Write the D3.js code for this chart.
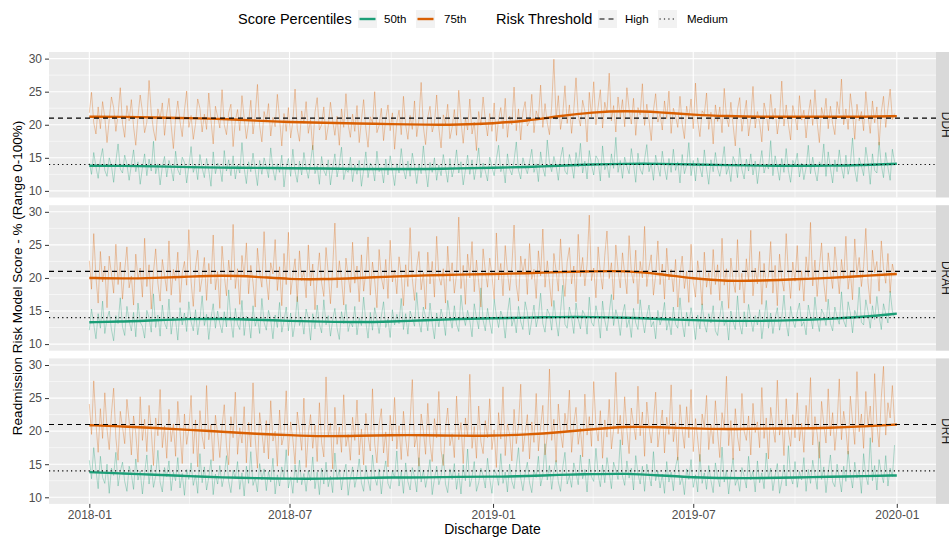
<!DOCTYPE html>
<html>
<head>
<meta charset="utf-8">
<script src="https://cdnjs.cloudflare.com/ajax/libs/d3/7.8.5/d3.min.js"></script>
<style>
body { margin: 0; background: #fff; }
svg { display: block; font-family: "Liberation Sans", Arial, sans-serif; }
</style>
</head>
<body>
<div class="container"></div>
<script>
// one score every 2 days, starting 2018-01-01
var ddh75 = [21.8,24.9,20.3,18.6,22.7,19.4,23.5,21.1,17.3,20.8,24.2,22.6,19.0,21.5,25.6,20.2,18.1,22.9,20.6,23.8,
	19.7,16.9,21.3,24.5,22.0,18.8,20.4,26.7,21.9,19.2,17.6,22.4,20.9,23.3,18.4,21.7,24.0,19.9,16.4,21.0,
	23.6,20.5,18.2,22.2,25.1,19.6,21.4,17.8,20.1,23.9,22.5,18.9,21.6,19.3,24.8,20.7,17.1,22.8,21.2,19.5,
	25.3,20.0,18.5,21.8,23.1,16.7,20.6,22.3,19.1,24.4,21.0,17.9,20.3,23.7,18.6,21.5,26.1,19.8,17.4,22.0,
	20.4,23.2,18.3,21.1,19.7,24.6,20.9,16.8,21.7,19.0,22.6,18.0,20.5,25.4,19.4,17.5,22.1,20.2,23.5,18.7,
	20.8,16.2,21.9,24.1,19.2,20.0,22.7,17.7,19.8,23.4,20.6,18.4,21.3,16.9,22.4,19.6,24.7,20.1,18.1,21.6,
	19.0,22.9,17.3,20.7,23.8,19.4,16.6,21.2,20.3,25.0,18.8,19.9,22.5,17.6,20.9,23.0,19.1,21.8,16.3,20.4,
	22.2,18.5,24.3,20.0,17.8,21.4,19.3,23.6,18.2,20.8,26.4,19.7,17.0,21.1,22.8,18.9,20.2,24.5,19.5,16.5,
	21.5,20.1,23.1,17.9,19.6,22.3,18.4,25.2,20.6,17.2,21.0,19.2,23.9,18.6,20.4,16.1,22.0,19.9,24.2,20.7,
	18.3,21.7,19.0,23.3,17.5,20.9,22.6,19.4,24.0,18.1,21.3,20.0,25.7,19.1,22.4,17.7,21.9,23.5,19.8,20.5,
	24.6,18.8,22.1,21.0,26.0,19.6,23.2,20.3,18.5,22.8,29.9,20.8,24.4,19.3,21.6,25.9,20.2,23.0,18.7,22.3,
	27.1,21.4,19.8,23.7,22.0,17.4,24.9,21.2,26.5,20.0,22.7,25.3,19.5,23.4,21.8,27.8,20.6,22.9,18.9,24.2,
	21.1,23.8,19.7,25.6,22.4,20.1,24.0,18.4,22.6,21.5,26.2,19.9,23.1,20.7,17.6,22.2,24.7,20.4,21.7,19.2,
	23.6,20.9,25.1,18.7,22.5,21.3,19.6,24.3,20.2,17.9,22.8,21.0,23.9,19.4,26.3,20.6,18.2,22.1,21.6,24.8,
	19.3,21.9,17.1,23.0,20.5,22.7,18.8,25.5,21.2,19.7,23.4,20.0,16.8,22.3,24.1,19.0,21.4,23.7,18.3,20.9,
	25.8,19.5,22.0,20.3,17.4,23.3,21.7,19.1,24.6,20.8,22.5,18.6,21.1,26.6,19.8,23.0,20.1,17.7,22.9,21.3,
	19.2,24.4,20.7,22.2,18.0,21.5,23.8,19.9,25.3,20.4,17.3,22.6,21.0,24.0,19.4,22.8,20.2,18.5,23.5,21.6,
	26.9,20.0,22.4,19.3,24.7,21.8,17.8,23.1,20.6,22.0,19.1,25.0,21.4,18.7,23.6,20.3,22.7,16.9,21.9,24.3,
	19.6,22.5,25.4,20.8,21.7];
var ddh50 = [14.2,12.5,15.8,13.6,11.9,14.7,16.4,13.1,12.2,15.0,13.8,11.3,14.5,17.1,13.3,12.7,15.4,14.0,11.6,13.9,
	16.2,12.9,14.4,11.0,13.5,15.6,12.3,14.8,13.0,17.5,12.6,14.1,10.9,13.7,15.2,12.1,14.6,13.4,11.5,16.0,
	13.2,12.4,15.1,14.3,11.2,13.8,16.7,12.8,14.0,11.7,15.5,13.5,12.0,14.9,13.1,10.7,15.9,12.6,14.2,13.6,
	11.4,16.1,13.0,14.7,12.3,15.3,11.8,13.9,12.7,17.3,13.4,11.1,14.4,12.9,15.7,13.2,10.8,14.6,12.5,15.0,
	13.7,12.0,16.5,13.3,11.6,14.1,12.8,15.4,10.6,13.6,14.9,12.2,16.3,13.0,11.3,14.5,12.4,15.8,13.5,11.9,
	14.3,16.9,12.6,13.8,11.0,15.2,13.1,12.3,14.7,10.9,13.4,15.6,12.1,14.0,16.6,11.7,13.3,12.8,15.1,11.4,
	13.9,12.5,14.6,10.7,13.2,15.9,12.0,14.2,13.6,11.5,16.0,12.9,13.5,11.2,14.8,12.4,15.3,13.0,10.8,14.1,
	12.7,16.4,13.3,11.8,14.5,12.2,15.7,13.7,11.1,14.0,12.6,16.8,13.2,10.6,14.3,12.8,15.0,11.6,13.9,12.3,
	15.5,13.4,11.3,14.9,12.1,13.6,16.2,12.7,14.4,10.9,13.1,15.4,12.5,14.7,11.7,13.8,16.5,12.0,14.2,13.0,
	11.5,15.1,13.6,12.3,14.8,16.9,12.9,13.9,11.2,15.6,13.3,12.4,14.6,17.4,13.1,11.8,15.0,13.7,12.6,14.4,
	16.3,12.8,14.1,11.4,15.9,13.5,12.2,17.7,14.3,12.9,15.2,13.8,11.6,14.9,16.6,13.0,12.5,15.5,14.0,11.9,
	15.8,13.6,17.2,12.7,14.5,11.8,16.1,13.9,12.4,15.3,14.7,11.5,16.8,13.2,14.1,12.0,15.6,13.4,18.1,12.8,
	14.6,11.9,15.1,13.7,12.6,16.4,14.0,11.3,15.7,13.3,12.5,14.8,17.0,12.9,14.2,11.6,15.4,13.8,12.2,16.0,
	13.5,11.7,14.9,12.8,16.3,13.1,14.4,11.2,15.5,12.6,13.9,17.3,12.3,14.6,11.5,15.0,13.6,12.1,16.2,13.3,
	11.0,14.7,12.9,15.8,13.4,12.2,14.1,16.7,12.5,13.7,11.4,15.2,14.3,12.0,16.5,13.2,11.8,14.8,13.0,15.6,
	12.4,14.5,11.1,13.8,16.1,12.7,14.0,13.3,17.6,12.3,15.3,13.6,11.6,14.9,12.8,16.4,13.1,11.3,14.6,13.9,
	15.7,12.1,14.2,11.7,13.5,16.9,12.6,15.1,13.0,11.5,14.4,13.7,17.1,12.2,15.9,13.4,11.2,14.7,12.9,16.2,
	13.6,11.9,15.4,12.5,14.1,18.0,13.2,11.4,15.0,13.8,12.3,16.6,14.3,11.0,15.6,13.1,12.7,17.4,13.9,12.0,
	15.8,13.5,11.6,16.3,14.4];
var drah75 = [22.6,18.3,26.7,20.1,16.2,24.0,19.4,21.8,15.5,23.3,20.6,17.7,25.1,19.0,22.4,16.8,21.2,24.7,18.5,20.3,
	15.9,23.6,19.8,21.5,17.1,26.0,18.7,22.0,15.3,20.9,24.4,19.2,16.5,22.8,20.4,18.0,25.6,17.4,21.3,19.6,
	23.9,16.3,20.7,22.5,18.9,27.3,19.5,15.7,21.6,24.2,17.9,20.0,23.1,16.6,22.2,19.1,26.5,18.2,21.0,15.4,
	24.8,20.5,17.3,22.7,19.7,28.1,18.4,21.4,16.0,23.4,20.2,25.3,17.6,21.9,19.3,15.6,24.5,20.8,18.6,27.0,
	19.9,16.7,22.3,20.6,25.8,18.1,21.7,15.8,23.7,19.0,26.9,17.5,20.4,22.9,16.4,24.1,19.6,21.1,17.0,25.0,
	18.8,22.1,15.2,20.0,23.8,19.3,17.2,24.6,20.7,16.1,21.5,28.3,18.5,22.6,19.8,15.9,23.0,20.3,17.8,25.4,
	19.2,21.8,16.4,23.5,18.0,20.9,26.2,17.4,22.4,19.6,15.5,24.3,20.1,18.3,22.8,16.9,25.7,19.4,21.2,17.6,
	23.2,20.5,15.8,22.0,18.7,27.6,19.9,16.6,21.6,24.0,18.2,20.8,15.3,23.9,19.1,22.5,17.1,26.3,20.2,18.9,
	21.4,16.2,24.8,19.5,22.3,17.7,20.6,29.2,18.4,21.9,16.0,23.6,20.0,25.5,17.9,22.7,19.3,15.6,24.4,21.0,
	18.6,23.0,20.4,16.8,26.8,19.7,22.2,17.3,24.9,20.9,18.1,21.7,28.0,19.0,16.5,23.3,20.7,22.9,17.5,25.2,
	19.8,21.3,16.9,24.1,20.3,27.4,18.6,22.6,19.4,15.7,23.7,21.1,18.0,25.9,20.5,17.2,22.4,24.6,19.1,21.8,
	16.4,26.6,20.2,23.1,18.8,22.0,29.5,19.6,21.5,17.0,24.7,20.8,18.3,23.4,27.1,19.9,22.3,16.7,25.0,21.2,
	18.5,23.8,20.6,17.6,26.4,21.0,19.2,24.2,16.1,22.5,20.0,27.8,18.7,21.6,23.5,17.4,20.4,25.6,19.0,22.1,
	16.8,24.5,19.7,21.3,17.9,22.8,15.6,20.5,23.3,18.4,21.0,16.3,25.1,19.3,17.1,22.6,20.1,15.9,23.9,18.6,
	20.8,17.5,24.3,19.0,22.0,16.6,26.0,18.9,21.4,15.4,23.0,19.6,17.8,25.8,18.2,20.7,16.2,22.9,19.4,27.2,
	17.3,21.5,19.1,24.0,16.0,22.2,18.5,20.3,25.5,17.7,21.9,15.8,23.6,19.8,18.0,26.7,20.6,16.9,22.4,19.5,
	24.9,18.1,21.1,16.5,23.2,20.2,28.4,18.8,22.7,17.2,21.6,25.3,19.2,16.4,23.8,20.9,18.4,24.7,21.3,17.6,
	22.8,19.9,26.3,18.3,21.0,16.7,25.9,20.5,23.1,18.7,21.7,27.5,19.3,16.1,24.2,20.8,22.5,18.0,25.6,21.4,
	19.2,23.7,17.8,22.1,20.6];
var drah50 = [12.1,15.3,13.0,10.8,14.6,12.4,16.5,11.6,13.8,15.0,12.2,10.5,14.3,13.1,17.0,12.6,11.3,15.7,13.5,12.0,
	14.8,11.1,16.2,13.3,12.7,10.9,15.1,13.9,11.8,17.6,12.5,14.4,11.2,15.9,13.2,12.3,16.8,11.5,14.1,13.6,
	10.6,15.5,12.9,14.7,11.9,16.4,13.4,12.0,15.2,11.4,13.7,17.3,12.8,14.5,10.7,13.9,16.1,12.4,15.0,13.1,
	11.7,14.9,12.6,18.2,13.6,11.0,15.4,13.0,12.2,16.6,11.3,14.2,13.8,10.9,15.8,12.7,14.0,11.6,16.9,13.3,
	12.1,15.1,13.7,10.8,14.4,12.5,16.3,11.8,13.5,15.6,12.0,14.7,11.1,13.2,17.2,12.8,14.1,11.5,15.3,13.9,
	10.6,14.6,12.3,15.9,13.0,11.7,16.7,12.9,14.3,11.2,13.6,15.4,12.4,10.7,14.9,13.1,16.0,11.9,13.4,12.6,
	15.7,11.4,14.0,12.8,17.1,13.3,10.9,14.8,12.1,15.5,13.7,11.6,14.2,16.4,12.5,13.8,11.0,15.2,12.9,14.5,
	13.1,16.9,12.2,14.6,11.5,15.0,13.9,12.7,17.8,13.4,11.8,15.6,14.1,12.0,16.2,13.2,10.8,14.7,12.6,15.3,
	13.8,11.3,16.6,14.2,12.4,15.8,13.0,11.9,17.4,14.4,12.8,15.1,13.5,11.1,16.1,14.0,12.3,18.5,13.6,12.0,
	15.4,13.3,11.6,16.8,14.3,12.5,15.0,13.9,10.9,14.6,17.0,12.7,14.1,11.7,15.7,13.4,12.2,16.4,14.8,11.4,
	13.7,15.9,12.6,14.2,17.7,13.1,11.8,15.3,14.5,12.1,16.6,13.5,11.2,14.9,18.9,13.0,12.4,15.6,14.0,11.6,
	16.2,13.8,12.3,15.1,14.4,11.5,17.1,13.3,12.7,15.8,14.1,10.9,16.5,13.6,12.0,14.7,17.5,12.8,15.2,13.9,
	11.3,14.5,16.0,12.5,13.7,11.0,15.4,13.2,12.2,16.7,13.8,11.7,14.3,15.9,12.6,13.4,10.8,15.1,12.9,14.0,
	16.3,12.1,13.6,11.4,15.6,13.0,12.4,17.0,13.3,11.1,14.8,12.7,15.5,13.5,10.7,14.4,12.3,16.1,13.1,11.8,
	14.6,13.2,15.8,12.0,11.3,14.1,16.5,12.8,13.7,10.6,15.0,13.4,12.2,17.3,13.0,11.5,14.9,12.6,16.0,13.8,
	11.9,14.3,12.9,15.2,10.8,13.5,16.6,12.4,14.7,11.6,13.9,15.5,12.1,14.0,17.4,13.2,11.2,15.7,13.6,12.5,
	14.8,16.2,12.7,13.4,11.4,15.9,14.2,12.3,17.1,13.8,11.9,15.3,14.5,12.8,16.8,13.1,12.0,15.6,14.1,13.0,
	17.9,13.5,12.6,16.4,14.7,11.7,15.1,14.0,18.6,13.3,12.9,16.7,14.9,12.4,15.8,13.7,17.2,14.3,12.2,16.1,
	14.6,13.2,18.0,15.0,13.9];
var drh75 = [24.1,19.5,27.6,21.2,16.8,23.4,18.9,25.8,20.3,17.2,22.7,26.5,19.0,15.6,23.0,20.6,18.1,24.8,21.5,16.4,
	22.3,19.7,15.3,25.2,18.6,21.8,16.9,23.9,20.1,14.8,22.0,19.3,26.3,17.5,20.8,15.9,23.3,18.4,21.1,16.2,
	24.5,19.9,15.1,22.6,18.0,20.4,25.4,16.6,21.7,14.6,23.1,19.2,17.3,26.9,18.7,21.0,15.5,22.4,19.6,16.0,
	20.7,24.0,17.8,14.9,22.2,19.0,25.9,16.5,20.5,18.2,23.7,15.2,21.3,17.6,27.3,18.9,14.4,22.8,19.8,16.7,
	21.6,15.8,24.6,18.5,20.0,14.7,23.2,17.9,19.4,26.1,16.3,21.4,18.8,15.0,22.9,20.2,17.1,25.0,14.5,19.7,
	22.5,17.4,20.9,15.4,24.3,18.3,16.1,28.2,19.1,21.2,14.3,23.6,18.0,20.6,16.8,25.5,17.7,19.5,15.6,22.1,
	18.6,24.7,16.4,20.3,14.9,22.7,19.3,17.0,26.4,18.1,15.2,21.0,23.4,16.7,19.9,14.6,22.4,18.5,25.1,17.3,
	20.8,15.7,23.0,18.9,16.2,21.5,27.8,17.6,19.4,14.7,22.6,20.1,16.5,24.2,18.2,15.4,21.9,19.0,26.0,17.1,
	14.8,20.4,23.5,17.8,19.6,16.0,25.3,18.7,21.3,15.1,22.0,19.2,28.6,17.4,20.7,15.9,23.8,18.4,16.6,21.6,
	19.0,24.9,17.2,20.2,14.5,22.8,18.8,26.7,16.3,21.1,19.5,15.5,23.3,18.1,20.9,27.1,16.9,19.7,22.5,15.8,
	21.4,18.3,25.7,17.0,20.6,23.9,16.4,19.3,29.4,18.6,21.8,15.3,24.1,19.8,17.5,22.7,20.0,26.2,16.8,21.2,
	23.6,18.0,20.5,16.1,25.6,19.4,22.2,17.7,27.5,20.8,18.5,23.1,15.9,21.7,19.1,24.8,17.3,20.3,28.9,19.6,
	22.4,17.9,25.2,20.1,16.6,23.5,21.0,18.7,26.8,19.3,22.9,16.2,24.4,20.7,18.2,21.5,25.9,17.6,20.4,23.2,
	16.7,22.1,19.5,27.0,18.4,21.3,15.6,24.0,20.2,17.4,23.7,19.0,26.3,16.9,21.9,18.8,15.4,22.6,20.6,25.4,
	17.2,21.0,18.1,24.6,19.7,16.0,22.8,20.4,28.3,17.8,21.6,15.7,23.4,19.2,17.0,25.7,20.0,18.6,22.3,16.4,
	24.2,19.8,21.4,17.5,26.6,18.9,22.0,15.8,23.6,20.7,18.3,27.7,19.4,21.7,16.3,24.9,20.1,17.7,22.5,19.0,
	25.8,18.5,21.2,16.8,23.9,20.5,28.1,17.9,22.2,19.6,15.9,24.5,21.0,18.2,26.4,19.3,22.8,17.1,20.9,27.9,
	18.7,23.0,20.3,16.5,25.3,21.5,18.0,29.0,19.9,22.6,17.4,26.0,20.6,23.8,18.3,28.7,21.1,17.6,25.1,29.8,
	19.4,24.3,22.0,26.9,21.3];
var drh50 = [15.6,12.8,17.5,14.1,11.3,16.2,13.0,12.1,15.0,10.6,14.4,13.3,16.8,11.7,13.9,15.3,12.4,10.9,14.7,13.5,
	11.2,15.8,12.6,14.0,10.5,13.7,16.4,12.0,14.9,11.5,13.2,17.1,12.3,10.8,14.5,13.1,15.5,11.0,13.8,12.5,
	16.0,11.4,13.6,10.3,14.2,12.7,15.2,11.8,13.4,10.6,16.6,12.2,14.6,11.1,13.0,15.7,10.4,13.5,12.0,14.8,
	11.6,13.3,16.3,12.4,10.7,14.1,12.8,15.4,11.2,13.7,10.2,14.7,12.1,16.9,11.8,13.0,10.8,15.1,12.6,14.3,
	11.0,13.9,12.3,15.9,10.5,13.4,11.7,14.6,12.9,17.2,11.4,13.1,10.6,14.9,12.2,15.6,11.9,13.6,10.9,14.0,
	12.5,16.1,11.3,13.8,10.4,14.4,12.0,15.3,11.6,13.2,10.7,16.7,12.7,14.2,11.1,13.5,15.0,10.3,12.8,14.6,
	11.5,13.3,15.8,12.2,10.9,14.8,12.6,11.0,16.4,13.0,11.8,14.3,10.5,13.6,15.5,12.1,11.3,14.0,12.9,17.0,
	11.7,13.9,10.6,15.2,12.4,11.1,14.5,13.1,10.8,16.0,12.3,14.1,11.5,13.4,15.7,10.4,12.8,14.7,11.9,13.2,
	16.5,12.0,10.7,14.3,12.7,15.1,11.2,13.7,10.5,14.9,12.5,17.3,11.6,13.0,15.4,10.9,12.2,14.4,13.3,11.4,
	15.9,12.8,10.6,14.2,13.5,11.8,16.6,12.1,13.8,10.8,15.0,12.4,11.3,14.6,17.5,12.9,11.0,13.6,15.3,12.2,
	10.7,14.1,13.0,16.2,11.7,13.4,18.1,12.6,14.8,11.2,13.9,15.6,12.3,10.9,14.5,16.8,12.0,13.3,11.5,15.2,
	13.7,11.9,16.4,12.8,14.2,10.8,15.8,13.1,12.4,17.4,13.5,11.6,14.9,12.2,16.0,13.8,11.3,15.3,14.1,12.7,
	18.7,13.2,11.8,15.5,12.9,14.4,11.1,16.3,13.6,12.0,14.7,10.9,15.0,13.3,11.7,16.9,12.5,14.0,11.4,13.5,
	10.6,15.4,12.3,13.8,11.0,14.6,16.1,11.9,13.1,10.4,14.3,12.7,15.7,11.5,13.4,10.8,16.5,12.1,13.7,11.2,
	14.8,12.5,10.7,15.2,13.0,11.6,17.6,12.3,14.1,10.5,13.6,15.9,11.8,12.9,10.9,14.5,13.2,11.4,16.2,12.6,
	14.0,10.8,15.5,12.2,13.7,11.3,16.7,12.8,14.4,11.0,13.3,15.1,10.6,12.4,14.9,11.7,17.8,13.1,12.0,15.4,
	11.5,13.9,12.6,16.0,10.9,14.2,12.1,15.6,13.4,11.2,18.4,12.7,14.6,10.7,13.8,16.4,12.3,11.6,15.0,13.0,
	10.8,14.7,12.4,17.0,13.5,11.4,15.3,12.9,14.1,10.6,16.6,13.2,11.9,19.0,12.5,14.8,11.1,15.7,13.6,12.2,
	16.3,11.7,14.4,13.1,17.9];

// smoothed trend, one value per month from 2018-01 to 2020-01
var ddhSmooth75 = [21.2,21.2,21.1,21.0,20.9,20.6,20.4,20.3,20.2,20.1,20.0,20.0,20.2,20.6,21.3,21.9,22.1,21.9,21.5,21.3,21.2,21.2,21.2,21.2,21.3];
var ddhSmooth50 = [13.8,13.8,13.7,13.6,13.5,13.5,13.4,13.4,13.3,13.3,13.3,13.4,13.5,13.6,13.8,14.0,14.1,14.1,14.0,13.9,13.8,13.8,13.8,13.9,14.1];
var drahSmooth75 = [20.0,19.9,20.0,20.2,20.4,20.2,19.8,19.8,20.0,20.2,20.4,20.5,20.6,20.7,20.9,21.0,21.1,20.6,19.9,19.5,19.6,19.8,20.0,20.3,20.6];
var drahSmooth50 = [13.3,13.4,13.6,13.8,13.8,13.7,13.5,13.4,13.3,13.4,13.6,13.8,13.9,14.0,14.1,14.1,14.0,13.8,13.6,13.5,13.5,13.6,13.8,14.1,14.6];
var drhSmooth75 = [20.9,20.7,20.5,20.2,19.9,19.6,19.4,19.2,19.3,19.4,19.4,19.3,19.3,19.5,19.8,20.3,20.7,20.6,20.4,20.3,20.4,20.4,20.5,20.7,21.0];
var drhSmooth50 = [13.8,13.6,13.4,13.2,13.0,12.9,12.8,12.8,12.9,13.0,13.0,13.1,13.1,13.2,13.4,13.5,13.6,13.3,13.0,12.9,12.9,13.0,13.1,13.2,13.3];

var facets = ["DDH", "DRAH", "DRH"];
var percentiles = ["50th", "75th"];
var thresholdNames = ["High", "Medium"];
var thresholdValues = [21, 14];
var yTicks = [10, 15, 20, 25, 30];
var xTickLabels = ["2018-01", "2018-07", "2019-01", "2019-07", "2020-01"];

const WIDTH = 949;
const HEIGHT = 543;
const PANEL_LEFT = 49;
const PANEL_RIGHT = 936;
const PANEL_TOP = 52;
const PANEL_H = 145.5;
const PANEL_GAP = 7.7;
const STRIP_W = 20;
const STEP = 2;
const GREEN = "#1b9e77";
const ORANGE = "#d95f02";

var translate = function(x, y){
	return "translate(" + x + "," + y + ")";
};

var start = new Date(2018, 0, 1);
var end = new Date(2019, 11, 31);
var pad = (end - start) * 0.05;
var parseMonth = d3.timeParse("%Y-%m");
var xTicks = xTickLabels.map(parseMonth);
var xMinor = d3.pairs(xTicks).map(function(p){ return new Date((+p[0] + +p[1]) / 2); });

var xScale = d3.scaleTime()
	.domain([new Date(+start - pad), new Date(+end + pad)])
	.range([PANEL_LEFT, PANEL_RIGHT]);

var yScale = d3.scaleLinear()
	.domain([9, 31])
	.range([PANEL_H, 0]);

var daily = function(arr){
	return arr.map(function(v, i){ return {date: d3.timeDay.offset(start, i * STEP), value: v}; });
};
var monthly = function(arr){
	return arr.map(function(v, i){ return {date: d3.timeMonth.offset(start, i), value: v}; });
};

var panels = [
	{name: facets[0], p50: ddh50, p75: ddh75, s50: ddhSmooth50, s75: ddhSmooth75},
	{name: facets[1], p50: drah50, p75: drah75, s50: drahSmooth50, s75: drahSmooth75},
	{name: facets[2], p50: drh50, p75: drh75, s50: drhSmooth50, s75: drhSmooth75}
];

var svg = d3.select('.container').append('svg')
	.attr('width', WIDTH)
	.attr('height', HEIGHT);

var rawLine = d3.line()
	.x(function(d){ return xScale(d.date); })
	.y(function(d){ return yScale(d.value); });

var smoothLine = d3.line()
	.x(function(d){ return xScale(d.date); })
	.y(function(d){ return yScale(d.value); })
	.curve(d3.curveBasis);

panels.forEach(function(p, i){
	var g = svg.append('g')
		.attr('transform', translate(0, PANEL_TOP + i * (PANEL_H + PANEL_GAP)));

	g.append('rect')
		.attr('x', PANEL_LEFT).attr('y', 0)
		.attr('width', PANEL_RIGHT - PANEL_LEFT).attr('height', PANEL_H)
		.attr('fill', '#ebebeb');

	// minor grid
	g.selectAll('.ymin').data(d3.pairs(yTicks).map(function(t){ return (t[0] + t[1]) / 2; }))
		.enter().append('line')
		.attr('x1', PANEL_LEFT).attr('x2', PANEL_RIGHT)
		.attr('y1', yScale).attr('y2', yScale)
		.attr('stroke', '#fff').attr('stroke-width', 0.55);
	g.selectAll('.xmin').data(xMinor)
		.enter().append('line')
		.attr('x1', xScale).attr('x2', xScale)
		.attr('y1', 0).attr('y2', PANEL_H)
		.attr('stroke', '#fff').attr('stroke-width', 0.55);

	// major grid
	g.selectAll('.ymaj').data(yTicks)
		.enter().append('line')
		.attr('x1', PANEL_LEFT).attr('x2', PANEL_RIGHT)
		.attr('y1', yScale).attr('y2', yScale)
		.attr('stroke', '#fff').attr('stroke-width', 1.1);
	g.selectAll('.xmaj').data(xTicks)
		.enter().append('line')
		.attr('x1', xScale).attr('x2', xScale)
		.attr('y1', 0).attr('y2', PANEL_H)
		.attr('stroke', '#fff').attr('stroke-width', 1.1);

	g.append('path').attr('d', rawLine(daily(p.p50)))
		.attr('fill', 'none').attr('stroke', GREEN)
		.attr('stroke-opacity', 0.32).attr('stroke-width', 1);
	g.append('path').attr('d', rawLine(daily(p.p75)))
		.attr('fill', 'none').attr('stroke', ORANGE)
		.attr('stroke-opacity', 0.32).attr('stroke-width', 1);

	g.append('path').attr('d', smoothLine(monthly(p.s50)))
		.attr('fill', 'none').attr('stroke', GREEN).attr('stroke-width', 2.4);
	g.append('path').attr('d', smoothLine(monthly(p.s75)))
		.attr('fill', 'none').attr('stroke', ORANGE).attr('stroke-width', 2.4);

	g.selectAll('.thr').data(thresholdValues)
		.enter().append('line')
		.attr('x1', PANEL_LEFT).attr('x2', PANEL_RIGHT)
		.attr('y1', yScale).attr('y2', yScale)
		.attr('stroke', '#000').attr('stroke-width', 1.1)
		.attr('stroke-dasharray', function(d, j){ return j == 0 ? "5,4" : "1.2,3.2"; });

	var yAxis = d3.axisLeft(yScale).tickValues(yTicks).tickSize(4).tickPadding(3);
	var ya = g.append('g')
		.attr('transform', translate(PANEL_LEFT, 0))
		.call(yAxis);
	ya.select('.domain').remove();
	ya.selectAll('line').attr('stroke', '#333');
	ya.selectAll('text').attr('fill', '#4d4d4d').style('font-size', '12px')
		.style('font-family', '"Liberation Sans", Arial, sans-serif');

	g.append('rect')
		.attr('x', PANEL_RIGHT).attr('y', 0)
		.attr('width', STRIP_W).attr('height', PANEL_H)
		.attr('fill', '#d9d9d9');
	g.append('text')
		.attr('transform', translate(PANEL_RIGHT + 10, PANEL_H / 2) + " rotate(90)")
		.attr('text-anchor', 'middle').attr('dy', '0.35em')
		.attr('fill', '#1a1a1a').style('font-size', '12px')
		.text(p.name);

	if(i == panels.length - 1){
		var xAxis = d3.axisBottom(xScale).tickValues(xTicks)
			.tickFormat(d3.timeFormat("%Y-%m")).tickSize(4).tickPadding(2.5);
		var xa = g.append('g')
			.attr('transform', translate(0, PANEL_H))
			.call(xAxis);
		xa.select('.domain').remove();
		xa.selectAll('line').attr('stroke', '#333');
		xa.selectAll('text').attr('fill', '#4d4d4d').style('font-size', '12px')
			.style('font-family', '"Liberation Sans", Arial, sans-serif');
	}
});

var panelsBottom = PANEL_TOP + 3 * PANEL_H + 2 * PANEL_GAP;

svg.append('text')
	.attr('x', (PANEL_LEFT + PANEL_RIGHT) / 2).attr('y', 534)
	.attr('text-anchor', 'middle').style('font-size', '14px')
	.text("Discharge Date");

svg.append('text')
	.attr('transform', translate(22, (PANEL_TOP + panelsBottom) / 2) + " rotate(-90)")
	.attr('text-anchor', 'middle').style('font-size', '13.5px')
	.text("Readmission Risk Model Score - % (Range 0-100%)");

// legend
var legend = svg.append('g').attr('transform', translate(0, 19));
var addKey = function(x, stroke, dash){
	legend.append('rect').attr('x', x).attr('y', -9).attr('width', 19).attr('height', 18).attr('fill', '#f2f2f2');
	legend.append('line').attr('x1', x + 1.5).attr('x2', x + 17.5).attr('y1', 0).attr('y2', 0)
		.attr('stroke', stroke).attr('stroke-width', dash ? 1.1 : 2.4)
		.attr('stroke-dasharray', dash);
};
var addText = function(x, t, size){
	legend.append('text').attr('x', x).attr('y', 0).attr('dy', '0.35em')
		.style('font-size', size).attr('fill', '#000').text(t);
};
addText(238, "Score Percentiles", '14.5px');
addKey(358, GREEN, null);
addText(384, percentiles[0], '11.5px');
addKey(416, ORANGE, null);
addText(444, percentiles[1], '11.5px');
addText(496, "Risk Threshold", '14.5px');
addKey(598, '#000', "5,4");
addText(625, thresholdNames[0], '11.5px');
addKey(658, '#000', "1.2,3.2");
addText(687, thresholdNames[1], '11.5px');
</script>
</body>
</html>
